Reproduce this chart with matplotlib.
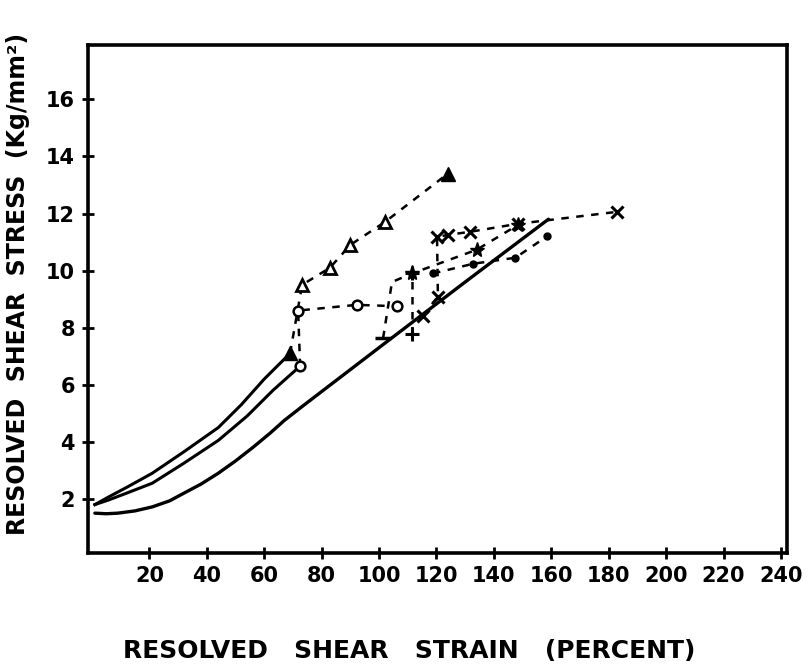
import matplotlib
matplotlib.use("Agg")
import matplotlib.pyplot as plt

# Data (strain in percent, stress in Kg/mm^2)
lower_x = [1, 5, 9, 15, 21, 27, 32, 38, 44, 50, 56, 62, 67, 74, 100, 130, 159]
lower_y = [1.5, 1.48, 1.5, 1.58, 1.72, 1.93, 2.2, 2.52, 2.9, 3.33, 3.8, 4.3,
           4.75, 5.3, 7.3, 9.6, 11.8]

loop_upper_x = [1, 6, 12, 21, 32, 44, 52, 60, 65, 69]
loop_upper_y = [1.8, 2.08, 2.4, 2.9, 3.65, 4.5, 5.3, 6.2, 6.7, 7.1]
loop_lower_x = [1, 6, 12, 21, 32, 44, 54, 63, 68, 72.5]
loop_lower_y = [1.8, 1.97, 2.2, 2.55, 3.25, 4.05, 4.9, 5.8, 6.25, 6.65]

tri_x = [69, 73.2, 82.9, 90, 102, 124]
tri_y = [7.1, 9.5, 10.1, 10.9, 11.7, 13.4]

circ_x = [72.5, 71.8, 92.3, 106.3]
circ_y = [6.65, 8.6, 8.8, 8.75]

dash_x = [101.4, 104.5, 111.5, 134, 148.4]
dash_y = [7.63, 9.6, 9.9, 10.73, 11.6]

vert_x = [111.5, 111.5]
vert_y = [7.77, 9.9]

cross_x = [115.3, 120.5, 120.2, 124, 131.7, 148.4, 183]
cross_y = [8.4, 9.09, 11.18, 11.25, 11.36, 11.64, 12.06]

dot_x = [118.8, 132.8, 147.5, 158.5]
dot_y = [9.9, 10.24, 10.45, 11.2]

xticks = [20, 40, 60, 80, 100, 120, 140, 160, 180, 200, 220, 240]
yticks = [2, 4, 6, 8, 10, 12, 14, 16]

fig = plt.figure(figsize=(8.11, 6.64), dpi=100)
ax = fig.add_axes([0.1085, 0.167, 0.8615, 0.765])

dash = (3, 3)
# solid curves
ax.plot(lower_x, lower_y, color="black", lw=2.4, solid_capstyle="round",
        solid_joinstyle="round")
ax.plot(loop_upper_x, loop_upper_y, color="black", lw=2.2, solid_joinstyle="round")
ax.plot(loop_lower_x, loop_lower_y, color="black", lw=2.2, solid_joinstyle="round")

# triangles
ax.plot(tri_x, tri_y, color="black", lw=1.8, dashes=dash)
ax.plot(tri_x[1:-1], tri_y[1:-1], ls="none", marker="^", ms=9,
        mfc="white", mec="black", mew=2)
ax.plot([tri_x[0], tri_x[-1]], [tri_y[0], tri_y[-1]], ls="none",
        marker="^", ms=10, color="black")

# circles
ax.plot(circ_x, circ_y, color="black", lw=1.8, dashes=dash,
        marker="o", ms=7, mfc="white", mec="black", mew=1.8)

# dashes / stars
ax.plot(dash_x, dash_y, color="black", lw=1.8, dashes=dash)
ax.plot(dash_x[0], dash_y[0], ls="none", marker="_", ms=12, mew=2.5, color="black")
ax.plot(dash_x[2:], dash_y[2:], ls="none", marker="*", ms=11, color="black")
ax.plot(vert_x, vert_y, color="black", lw=1.8, dashes=dash,
        marker="+", ms=10, mew=2.2)

# crosses
ax.plot(cross_x, cross_y, color="black", lw=1.8, dashes=dash,
        marker="x", ms=8, mew=2.2)

# dots
ax.plot(dot_x, dot_y, color="black", lw=1.8, dashes=dash,
        marker="o", ms=5)

ax.set_xlim(-1.4, 242)
ax.set_ylim(0.1, 17.9)
ax.set_xticks(xticks)
ax.set_yticks(yticks)
ax.tick_params(direction="inout", length=9, width=2, labelsize=15, pad=5)
for lab in ax.get_xticklabels() + ax.get_yticklabels():
    lab.set_fontweight("bold")
for sp in ax.spines.values():
    sp.set_linewidth(2.6)

ax.set_xlabel("RESOLVED   SHEAR   STRAIN   (PERCENT)", fontsize=18,
              fontweight="bold")
ax.xaxis.set_label_coords(0.46, -0.17)
ax.set_ylabel("RESOLVED  SHEAR  STRESS  (Kg/mm²)", fontsize=17,
              fontweight="bold")
ax.yaxis.set_label_coords(-0.083, 0.53)

fig.savefig("out.png", dpi=100)
